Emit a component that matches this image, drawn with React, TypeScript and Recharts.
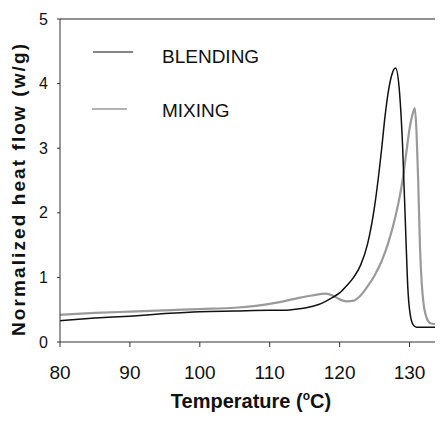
import { Line, LineChart, ReferenceLine, XAxis, YAxis } from "recharts";

const FONT = "'Liberation Sans', Arial, sans-serif";
const BLEND_COLOR = "#111111";
const MIX_COLOR = "#9a9a9a";

const X_TICKS = [80, 90, 100, 110, 120, 130];
const Y_TICKS = [0, 1, 2, 3, 4, 5];

const blendTemp = [
  80, 85, 90, 95, 100, 105, 110, 112, 114, 116, 117, 118, 119, 120, 121, 122,
  123, 124, 125, 126, 126.5, 127, 127.5, 128, 128.5, 129, 129.5, 129.75, 130,
  130.5, 131, 132, 134.5,
];
const blendFlow = [
  0.33, 0.37, 0.4, 0.44, 0.47, 0.48, 0.49, 0.49, 0.51, 0.55, 0.58, 0.63, 0.69,
  0.76, 0.87, 1.0, 1.19, 1.52, 2.1, 2.98, 3.5, 3.9, 4.15, 4.24, 3.95, 3.05,
  1.55, 0.85, 0.5, 0.27, 0.23, 0.23, 0.23,
];

const mixTemp = [
  80, 85, 90, 95, 100, 105, 108, 110, 112, 114, 116, 118, 119, 120, 121, 122,
  123, 124, 125, 126, 127, 128, 128.5, 129, 129.5, 130, 130.5, 130.75, 131,
  131.25, 131.5, 131.75, 132, 132.5, 133, 134.5,
];
const mixFlow = [
  0.42, 0.45, 0.47, 0.49, 0.51, 0.53, 0.56, 0.59, 0.63, 0.68, 0.72, 0.75, 0.72,
  0.66, 0.63, 0.64, 0.72, 0.86, 1.03, 1.25, 1.55, 1.95, 2.2, 2.5, 2.9, 3.3,
  3.55, 3.62, 3.25, 2.45, 1.45, 0.9, 0.6, 0.36, 0.29, 0.27,
];

const blendData = blendTemp.map((t, i) => ({ t, v: blendFlow[i] }));
const mixData = mixTemp.map((t, i) => ({ t, v: mixFlow[i] }));

// legend drawn as an overlay so it takes no room from the plot
function LegendBox() {
  return (
    <svg
      width={200}
      height={90}
      style={{ position: "absolute", left: 88, top: 40 }}
    >
      <line x1={5} x2={45} y1={12} y2={12} stroke={BLEND_COLOR} strokeWidth={1.2} />
      <text x={74} y={23} fontSize={19} fontFamily={FONT} fill="#111">
        BLENDING
      </text>
      <line x1={4} x2={39} y1={69} y2={69} stroke={MIX_COLOR} strokeWidth={1.6} />
      <text x={74} y={77} fontSize={19} fontFamily={FONT} fill="#111">
        MIXING
      </text>
    </svg>
  );
}

function XTitle() {
  return (
    <text
      x={251}
      y={408}
      textAnchor="middle"
      fontSize={20}
      fontWeight="bold"
      fontFamily={FONT}
      fill="#111"
    >
      Temperature (
      <tspan fontSize={12} dy={-8}>
        o
      </tspan>
      <tspan dy={8}>C)</tspan>
    </text>
  );
}

function YTitle() {
  return (
    <text
      x={0}
      y={0}
      transform="translate(25 190) rotate(-90)"
      textAnchor="middle"
      fontSize={19}
      fontWeight="bold"
      fontFamily={FONT}
      fill="#111"
      textLength={292}
      lengthAdjust="spacing"
    >
      Normalized heat flow (w/g)
    </text>
  );
}

export default function App() {
  return (
    <div
      style={{
        position: "relative",
        margin: "-8px 0 0 -8px",
        width: 443,
        height: 421,
        background: "#fff",
      }}
    >
      <LineChart
        width={443}
        height={421}
        margin={{ top: 19, right: 2, bottom: 29, left: 20 }}
      >
        <XAxis
          type="number"
          dataKey="t"
          domain={[80, 134.5]}
          ticks={X_TICKS}
          allowDataOverflow
          height={50}
          tickSize={5}
          tickMargin={19}
          tick={{ fontSize: 19, fill: "#111", fontFamily: FONT }}
          stroke="#333"
          label={<XTitle />}
        />
        <YAxis
          type="number"
          domain={[0, 5]}
          ticks={Y_TICKS}
          width={40}
          tickSize={3}
          tickMargin={9}
          tick={{ fontSize: 16, fill: "#111", fontFamily: FONT }}
          stroke="#333"
          label={<YTitle />}
        />
        <ReferenceLine y={5} stroke="#222" strokeWidth={1.2} />
        <ReferenceLine
          segment={[
            { x: 134.5, y: 0 },
            { x: 134.5, y: 1.27 },
          ]}
          stroke="#999"
        />
        <Line
          data={mixData}
          dataKey="v"
          type="monotone"
          stroke={MIX_COLOR}
          strokeWidth={2.2}
          dot={false}
          isAnimationActive={false}
        />
        <Line
          data={blendData}
          dataKey="v"
          type="monotone"
          stroke={BLEND_COLOR}
          strokeWidth={1.5}
          dot={false}
          isAnimationActive={false}
        />
      </LineChart>
      <LegendBox />
    </div>
  );
}
